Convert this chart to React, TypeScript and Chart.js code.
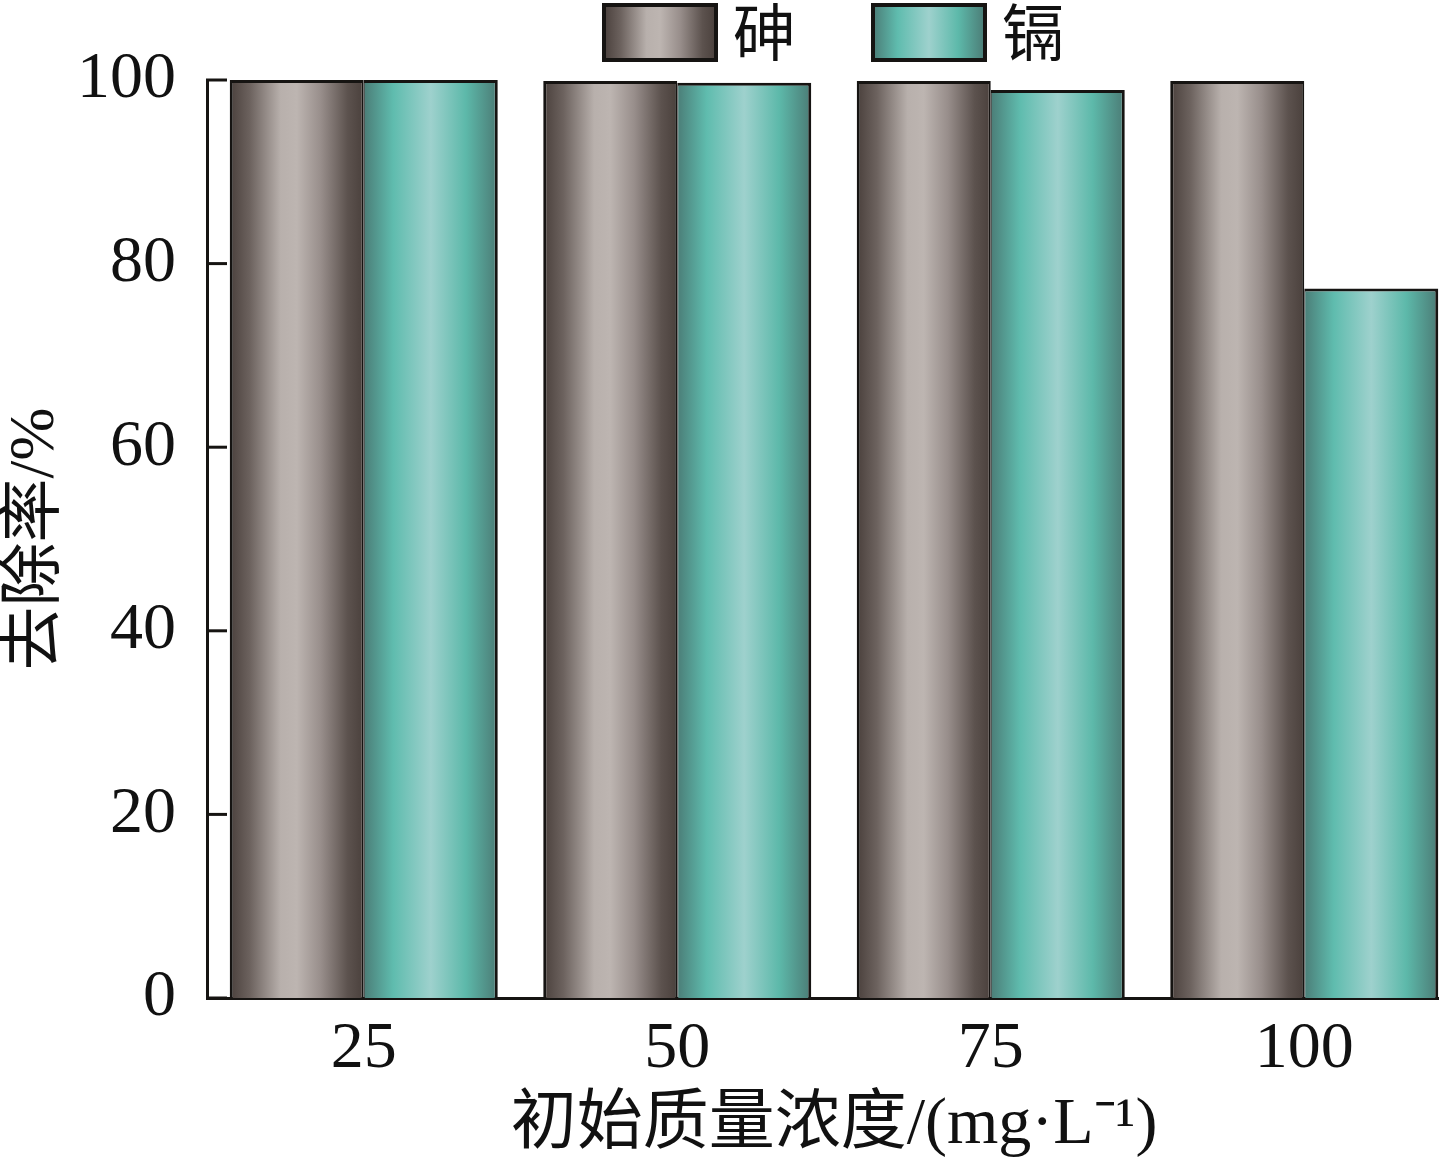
import React, { useEffect, useRef } from "react";
import { Chart, registerables } from "chart.js";
Chart.register(...registerables);

const categories = ["25", "50", "75", "100"];
const arsenic = [100, 99.9, 99.9, 99.9];
const cadmium = [100, 99.7, 98.9, 77.3];
const yTicks = [0, 20, 40, 60, 80, 100];
const seriesNames = ["砷", "镉"];
const xTitle = "初始质量浓度/(mg·L⁻¹)";
const yTitle = "去除率/%";

const CAT_PCT = 0.855;
const LINE = "#161412";

const arsenicStops: [number, string][] = [
  [0, "#4a403c"],
  [0.15, "#6c625e"],
  [0.38, "#b8b0ac"],
  [0.5, "#bdb5b1"],
  [0.68, "#988e8b"],
  [0.88, "#5c524e"],
  [1, "#4a403c"],
];
const cadmiumStops: [number, string][] = [
  [0, "#4b7d77"],
  [0.22, "#5fbcae"],
  [0.5, "#9ed1cd"],
  [0.76, "#5db9aa"],
  [1, "#4b7b75"],
];

function makeGrad(c2d: CanvasRenderingContext2D, x0: number, x1: number, stops: [number, string][]) {
  const g = c2d.createLinearGradient(x0, 0, x1, 0);
  stops.forEach(([o, c]) => g.addColorStop(o, c));
  return g;
}

function barFill(stops: [number, string][], side: number) {
  return (ctx: any) => {
    const chart = ctx.chart;
    const xs = chart.scales && chart.scales.x;
    if (!chart.chartArea || !xs) return stops[2][1];
    const center = xs.getPixelForValue(ctx.dataIndex);
    const catW = (xs.right - xs.left) / categories.length;
    const barW = (catW * CAT_PCT) / 2;
    const x0 = side === 0 ? center - barW : center;
    return makeGrad(chart.ctx, x0, x0 + barW, stops);
  };
}

const innerTicks = {
  id: "innerTicks",
  beforeDatasetsDraw(chart: any) {
    const y = chart.scales.y;
    const c = chart.ctx as CanvasRenderingContext2D;
    c.save();
    c.strokeStyle = LINE;
    c.lineWidth = 3;
    yTicks.forEach((v) => {
      const py = y.getPixelForValue(v);
      c.beginPath();
      c.moveTo(y.right - 1, py);
      c.lineTo(y.right + 20, py);
      c.stroke();
    });
    c.restore();
  },
};

const customLegend = {
  id: "customLegend",
  afterDraw(chart: any) {
    const c = chart.ctx as CanvasRenderingContext2D;
    const items = [
      { x: 604, text: seriesNames[0], stops: arsenicStops },
      { x: 873, text: seriesNames[1], stops: cadmiumStops },
    ];
    c.save();
    items.forEach((it) => {
      const w = 112;
      const h = 55;
      const top = 5;
      c.fillStyle = makeGrad(c, it.x, it.x + w, it.stops);
      c.fillRect(it.x, top, w, h);
      c.strokeStyle = LINE;
      c.lineWidth = 4;
      c.strokeRect(it.x, top, w, h);
      c.fillStyle = "#111";
      c.font = '62px "Noto Sans CJK SC"';
      c.textAlign = "left";
      c.textBaseline = "middle";
      c.fillText(it.text, it.x + 129, top + h / 2);
    });
    c.restore();
  },
};

export default function App() {
  const ref = useRef<HTMLCanvasElement | null>(null);
  useEffect(() => {
    if (!ref.current) return;
    const chart = new Chart(ref.current, {
      type: "bar",
      data: {
        labels: categories,
        datasets: [
          {
            label: seriesNames[0],
            data: arsenic,
            backgroundColor: barFill(arsenicStops, 0) as any,
            borderColor: LINE,
            borderWidth: { top: 3, left: 3, right: 2, bottom: 0 } as any,
            borderSkipped: "start",
            categoryPercentage: CAT_PCT,
            barPercentage: 1,
          },
          {
            label: seriesNames[1],
            data: cadmium,
            backgroundColor: barFill(cadmiumStops, 1) as any,
            borderColor: LINE,
            borderWidth: { top: 3, left: 1, right: 3, bottom: 0 } as any,
            borderSkipped: "start",
            categoryPercentage: CAT_PCT,
            barPercentage: 1,
          },
        ],
      },
      options: {
        responsive: false,
        animation: false,
        layout: { padding: { top: 80, left: 0, right: 0, bottom: 0 } },
        plugins: {
          legend: { display: false },
          tooltip: { enabled: false },
        },
        scales: {
          x: {
            grid: { display: false, drawTicks: false },
            border: { display: true, color: LINE, width: 3 },
            ticks: {
              color: "#111",
              padding: 12,
              font: { family: '"Liberation Serif"', size: 66 },
            },
            title: {
              display: true,
              text: xTitle,
              color: "#111",
              padding: { top: 0, bottom: 11 },
              font: { family: '"Liberation Serif", "Noto Sans CJK SC"', size: 66, lineHeight: 1 },
            },
            afterFit: (s: any) => {
              s.height = 172;
            },
          },
          y: {
            min: 0,
            max: 100,
            grid: { display: false, drawTicks: false },
            border: { display: true, color: LINE, width: 3 },
            ticks: {
              stepSize: 20,
              color: "#111",
              padding: 31,
              font: { family: '"Liberation Serif"', size: 66 },
            },
            title: {
              display: true,
              text: yTitle,
              color: "#111",
              padding: { top: 4, bottom: 0 },
              font: { family: '"Liberation Serif", "Noto Sans CJK SC"', size: 64, lineHeight: 1 },
            },
            afterFit: (s: any) => {
              s.width = 207;
            },
          },
        },
      },
      plugins: [innerTicks, customLegend],
    });
    return () => chart.destroy();
  }, []);
  return (
    <div
      style={{
        position: "fixed",
        left: 0,
        top: 0,
        width: 1439,
        height: 1170,
        overflow: "hidden",
        background: "#fff",
      }}
    >
      <canvas ref={ref} width={1461} height={1170} style={{ display: "block" }} />
    </div>
  );
}
